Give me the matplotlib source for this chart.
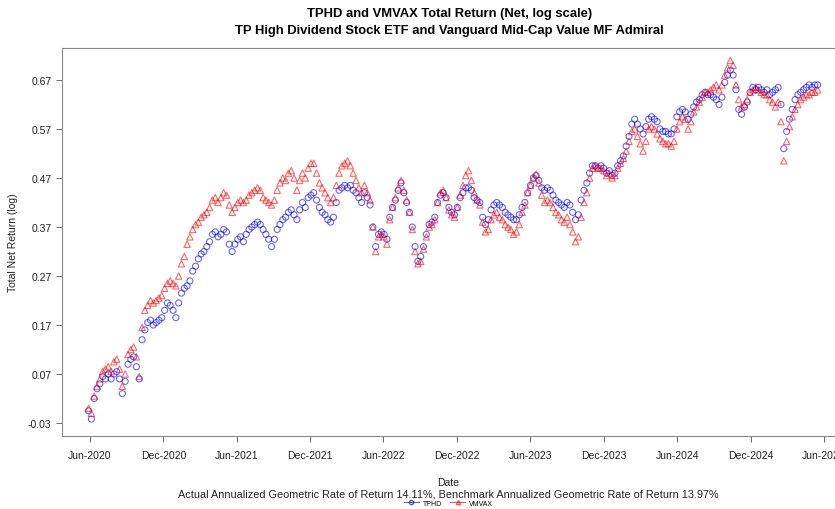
import numpy as np
import pandas as pd
import matplotlib
matplotlib.use("Agg")
import matplotlib.pyplot as plt
import matplotlib.dates as mdates
from matplotlib.lines import Line2D

plt.rcParams['font.family'] = ['Liberation Sans', 'DejaVu Sans']

# weekly readings (Friday closes) of the cumulative log total return
START = "2020-05-29"

tphd = [
    -0.005, -0.022, 0.020, 0.040, 0.050, 0.065, 0.060, 0.070, 0.060, 0.070,
    0.075, 0.060, 0.030, 0.055, 0.090, 0.100, 0.105, 0.085, 0.060, 0.140,
    0.160, 0.175, 0.180, 0.170, 0.175, 0.180, 0.185, 0.200, 0.215, 0.210,
    0.200, 0.185, 0.215, 0.235, 0.245, 0.250, 0.260, 0.280, 0.290, 0.305,
    0.315, 0.320, 0.330, 0.340, 0.355, 0.360, 0.350, 0.355, 0.365, 0.360,
    0.335, 0.320, 0.335, 0.345, 0.350, 0.340, 0.355, 0.365, 0.370, 0.375,
    0.380, 0.375, 0.365, 0.355, 0.345, 0.330, 0.345, 0.365, 0.375, 0.385,
    0.390, 0.400, 0.405, 0.395, 0.385, 0.405, 0.420, 0.410, 0.430, 0.435,
    0.440, 0.425, 0.410, 0.400, 0.395, 0.385, 0.380, 0.390, 0.420, 0.445,
    0.450, 0.455, 0.450, 0.455, 0.445, 0.440, 0.430, 0.420, 0.440, 0.430,
    0.415, 0.370, 0.330, 0.355, 0.360, 0.355, 0.345, 0.390, 0.410, 0.425,
    0.445, 0.460, 0.440, 0.420, 0.400, 0.370, 0.330, 0.300, 0.310, 0.330,
    0.355, 0.375, 0.380, 0.390, 0.420, 0.435, 0.440, 0.430, 0.410, 0.400,
    0.395, 0.410, 0.430, 0.440, 0.450, 0.450, 0.445, 0.430, 0.425, 0.420,
    0.390, 0.375, 0.385, 0.405, 0.415, 0.420, 0.415, 0.410, 0.400, 0.395,
    0.390, 0.385, 0.385, 0.395, 0.410, 0.420, 0.440, 0.455, 0.470, 0.475,
    0.465, 0.450, 0.445, 0.450, 0.445, 0.435, 0.425, 0.420, 0.415, 0.410,
    0.420, 0.415, 0.400, 0.385, 0.395, 0.425, 0.445, 0.460, 0.480, 0.495,
    0.495, 0.490, 0.495, 0.490, 0.480, 0.485, 0.475, 0.480, 0.495, 0.505,
    0.515, 0.535, 0.555, 0.580, 0.590, 0.580, 0.570, 0.560, 0.575, 0.590,
    0.595, 0.590, 0.585, 0.570, 0.565, 0.565, 0.560, 0.560, 0.570, 0.595,
    0.605, 0.610, 0.605, 0.590, 0.600, 0.615, 0.625, 0.630, 0.640, 0.645,
    0.640, 0.640, 0.635, 0.630, 0.620, 0.635, 0.665, 0.680, 0.690, 0.680,
    0.650, 0.610, 0.600, 0.615, 0.625, 0.645, 0.655, 0.650, 0.655, 0.650,
    0.645, 0.650, 0.640, 0.645, 0.650, 0.655, 0.620, 0.530, 0.565, 0.590,
    0.610, 0.630, 0.640, 0.645, 0.650, 0.655, 0.660, 0.655, 0.660, 0.660,
]

vmvax = [
    0.000, -0.010, 0.025, 0.045, 0.060, 0.075, 0.080, 0.085, 0.075, 0.095,
    0.100, 0.080, 0.045, 0.070, 0.110, 0.120, 0.125, 0.105, 0.065, 0.165,
    0.200, 0.210, 0.220, 0.215, 0.220, 0.225, 0.230, 0.245, 0.255, 0.260,
    0.255, 0.250, 0.270, 0.295, 0.310, 0.335, 0.350, 0.365, 0.375, 0.380,
    0.390, 0.395, 0.400, 0.410, 0.425, 0.430, 0.420, 0.430, 0.440, 0.435,
    0.415, 0.400, 0.410, 0.420, 0.425, 0.420, 0.425, 0.435, 0.440, 0.445,
    0.450, 0.445, 0.430, 0.425, 0.420, 0.415, 0.425, 0.445, 0.460, 0.470,
    0.465, 0.480, 0.485, 0.470, 0.445, 0.465, 0.480, 0.470, 0.490, 0.500,
    0.500, 0.480, 0.460, 0.450, 0.440, 0.430, 0.420, 0.430, 0.455, 0.480,
    0.495, 0.500, 0.505, 0.495, 0.480, 0.465, 0.450, 0.440, 0.455, 0.440,
    0.425, 0.370, 0.320, 0.350, 0.355, 0.350, 0.335, 0.385, 0.410, 0.430,
    0.450, 0.465, 0.445, 0.425, 0.400, 0.365, 0.320, 0.295, 0.300, 0.325,
    0.350, 0.370, 0.375, 0.385, 0.420, 0.440, 0.445, 0.430, 0.405, 0.395,
    0.390, 0.410, 0.435, 0.455, 0.475, 0.485, 0.465, 0.440, 0.425, 0.415,
    0.380, 0.360, 0.365, 0.385, 0.395, 0.400, 0.390, 0.385, 0.375, 0.370,
    0.365, 0.355, 0.360, 0.375, 0.400, 0.415, 0.440, 0.455, 0.470, 0.478,
    0.460, 0.435, 0.420, 0.425, 0.420, 0.410, 0.400, 0.395, 0.385, 0.380,
    0.390, 0.375, 0.360, 0.340, 0.350, 0.390, 0.420, 0.440, 0.470, 0.490,
    0.495, 0.490, 0.490, 0.485, 0.475, 0.480, 0.470, 0.475, 0.490, 0.500,
    0.510, 0.525, 0.545, 0.565, 0.570, 0.555, 0.540, 0.525, 0.545, 0.570,
    0.575, 0.570, 0.560, 0.550, 0.545, 0.540, 0.540, 0.535, 0.545, 0.570,
    0.585, 0.595, 0.590, 0.570, 0.585, 0.605, 0.615, 0.625, 0.635, 0.645,
    0.645, 0.650, 0.655, 0.660, 0.650, 0.660, 0.680, 0.695, 0.710, 0.700,
    0.660, 0.630, 0.615, 0.620, 0.630, 0.645, 0.650, 0.655, 0.650, 0.645,
    0.640, 0.640, 0.630, 0.625, 0.615, 0.625, 0.585, 0.505, 0.545, 0.575,
    0.595, 0.610, 0.620, 0.630, 0.635, 0.640, 0.640, 0.645, 0.645, 0.650,
]

y_ticks = [-0.03, 0.07, 0.17, 0.27, 0.37, 0.47, 0.57, 0.67]

dates = pd.date_range(START, periods=len(tphd), freq="7D")

fig = plt.figure(figsize=(8.35, 5.10), dpi=100)
ax = fig.add_axes([0.0743, 0.1431, 0.94, 0.7608])

ax.scatter(dates, tphd, s=19, marker='o', facecolors='none',
           edgecolors='#0000ff', linewidths=0.8, alpha=0.6)
ax.scatter(dates, vmvax, s=21, marker='^', facecolors='none',
           edgecolors='#ff0000', linewidths=0.8, alpha=0.6)

ax.set_xlim(pd.Timestamp("2020-03-24"), pd.Timestamp("2025-07-28"))
ax.set_ylim(-0.0565, 0.7353)

ax.xaxis.set_major_locator(mdates.MonthLocator(bymonth=[6, 12], bymonthday=1))
ax.xaxis.set_major_formatter(mdates.DateFormatter("%b-%Y"))
ax.set_yticks(y_ticks)
ax.set_yticklabels([f"{v:.2f}" for v in y_ticks])

ax.tick_params(axis='both', labelsize=7.5, colors='#555555', labelcolor='#222222',
               length=4, width=0.6)
ax.tick_params(axis='x', pad=6)
for side in ['left', 'top', 'bottom', 'right']:
    ax.spines[side].set_color('#888888')
    ax.spines[side].set_linewidth(0.8)

ax.set_ylabel("Total Net Return (log)", fontsize=7.5, color='#222222', labelpad=7)

fig.text(0.538, 0.972, "TPHD and VMVAX Total Return (Net, log scale)",
         ha='center', va='center', fontsize=9.4, fontweight='bold')
fig.text(0.538, 0.939, "TP High Dividend Stock ETF and Vanguard Mid-Cap Value MF Admiral",
         ha='center', va='center', fontsize=9.4, fontweight='bold')

fig.text(0.537, 0.053, "Date", ha='center', va='center', fontsize=7.5, color='#222222')
fig.text(0.537, 0.031,
         "Actual Annualized Geometric Rate of Return 14.11%, "
         "Benchmark Annualized Geometric Rate of Return 13.97%",
         ha='center', va='center', fontsize=7.8, color='#222222')

handles = [
    Line2D([], [], color='#0000ff', marker='o', mfc='none', lw=0.7, ms=3, alpha=0.7),
    Line2D([], [], color='#ff0000', marker='^', mfc='none', lw=0.7, ms=3, alpha=0.7),
]
fig.legend(handles, ["TPHD", "VMVAX"], loc='center', bbox_to_anchor=(0.537, 0.011),
           ncol=2, frameon=False, fontsize=5, handlelength=2.2, columnspacing=1.2,
           handletextpad=0.5)

fig.savefig("out.png", dpi=100)
